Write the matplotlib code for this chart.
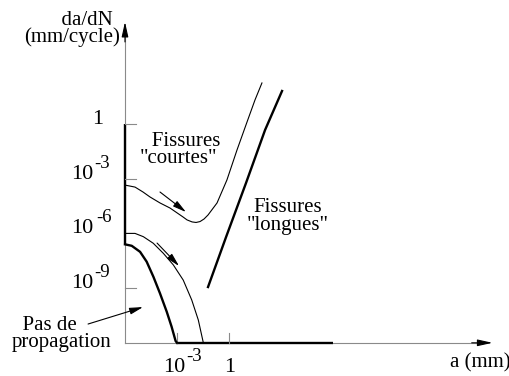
import matplotlib
matplotlib.use('Agg')
import matplotlib.pyplot as plt

plt.rcParams['font.family'] = 'Liberation Serif'

# schematic: x = log10(a in mm), y = log10(da/dN in mm/cycle)
x_origin, x_end = -6.0, 15.2
y_origin, y_end = -12.0, 5.6

# "short" cracks, upper curve (dip then joins long crack behaviour)
short_up_x = [-6.0, -5.42, -4.96, -4.56, -3.98, -3.40, -2.65, -2.42, -2.13, -1.90,
              -1.67, -1.44, -1.21, -0.69, -0.12, 0.46, 1.04, 1.50, 1.90]
short_up_y = [-3.35, -3.46, -3.73, -4.00, -4.33, -4.61, -5.10, -5.26, -5.37, -5.40,
              -5.35, -5.21, -4.99, -4.33, -3.07, -1.43, 0.11, 1.32, 2.25]

# "short" cracks that arrest
short_mid_x = [-6.0, -5.42, -4.94, -4.37, -3.79, -3.21, -2.64, -2.15, -1.77, -1.48]
short_mid_y = [-6.0, -6.0, -6.18, -6.54, -7.09, -7.73, -8.56, -9.65, -10.75, -12.0]

# threshold boundary (no propagation below)
thresh_x = [-6.0, -5.61, -5.13, -4.75, -4.36, -3.98, -3.59, -3.31, -3.08, -3.0]
thresh_y = [-6.60, -6.68, -7.01, -7.55, -8.38, -9.29, -10.30, -11.12, -11.9, -12.0]

# "long" cracks
long_x = [-1.21, -0.17, 0.98, 2.08, 3.06]
long_y = [-8.94, -6.20, -3.24, -0.33, 1.81]

# tick exponents and their labels (base, superscript)
y_ticks = [0, -3, -6, -9]
y_bases = ['1', '10', '10', '10']
y_sups = ['', '-3', '-6', '-9']
x_ticks = [-3, 0]
x_bases = ['10', '1']
x_sups = ['-3', '']

fig = plt.figure(figsize=(5.1, 3.76), dpi=100)
ax = fig.add_axes([0, 0, 1, 1])
ax.set_xlim(-13.21, 16.21)
ax.set_ylim(-13.82, 6.80)
ax.axis('off')

grey = '#8a8a8a'
head = '-|>,head_length=0.9,head_width=0.2'
# axes
ax.plot([x_origin, x_origin], [y_origin, 4.8], color=grey, lw=0.8)
ax.plot([x_origin, x_origin], [0, thresh_y[0]], color='black', lw=1.7, solid_capstyle='butt')
ax.annotate('', xy=(x_origin, y_end), xytext=(x_origin, 4.5),
            arrowprops=dict(arrowstyle=head, lw=0.8, shrinkA=0, shrinkB=0,
                            mutation_scale=10, fc='black', ec='black'))
ax.plot([x_origin, -3.0], [y_origin, y_origin], color=grey, lw=0.8)
ax.plot([-3.0, 6.0], [y_origin, y_origin], color='black', lw=1.7, solid_capstyle='butt')
ax.plot([6.0, 14.3], [y_origin, y_origin], color=grey, lw=0.8)
ax.annotate('', xy=(x_end, y_origin), xytext=(14.0, y_origin),
            arrowprops=dict(arrowstyle=head, lw=0.8, shrinkA=0, shrinkB=0,
                            mutation_scale=10, fc='black', ec='black'))

for t in y_ticks:
    if t != -6:
        ax.plot([x_origin, x_origin + 0.65], [t, t], color=grey, lw=0.8)
for t in x_ticks:
    ax.plot([t, t], [y_origin, y_origin + 0.55], color=grey, lw=0.8)

# tick labels, offsets in points
for t, b, s in zip(y_ticks, y_bases, y_sups):
    if s:
        ax.annotate(b, xy=(x_origin, t), xytext=(-23, 0), textcoords='offset points',
                    ha='right', va='baseline', fontsize=16)
        sx = -20.5 if s == '-6' else -22.3
        ax.annotate(s, xy=(x_origin, t), xytext=(sx, 7.9), textcoords='offset points',
                    ha='left', va='baseline', fontsize=13.5)
    else:
        ax.annotate(b, xy=(x_origin, t), xytext=(-15.8, 0), textcoords='offset points',
                    ha='right', va='baseline', fontsize=16)
for t, b, s in zip(x_ticks, x_bases, x_sups):
    if s:
        ax.annotate(b, xy=(t, y_origin), xytext=(5.8, -20.8), textcoords='offset points',
                    ha='right', va='baseline', fontsize=16)
        ax.annotate(s, xy=(t, y_origin), xytext=(6.5, -12.9), textcoords='offset points',
                    ha='left', va='baseline', fontsize=13.5)
    else:
        ax.annotate(b, xy=(t, y_origin), xytext=(0.7, -20.8), textcoords='offset points',
                    ha='center', va='baseline', fontsize=16)

# curves
ax.plot(short_up_x, short_up_y, color='black', lw=0.8)
ax.plot(short_mid_x, short_mid_y, color='black', lw=0.8)
ax.plot(thresh_x, thresh_y, color='black', lw=1.7)
ax.plot(long_x, long_y, color='black', lw=1.7)

arrow_kw = dict(arrowstyle='-|>,head_length=0.8,head_width=0.2', lw=0.8,
                color='black', shrinkA=0, shrinkB=0, mutation_scale=10)
ax.annotate('', xy=(-2.48, -4.83), xytext=(-3.98, -3.73), arrowprops=arrow_kw)
ax.annotate('', xy=(-2.88, -7.79), xytext=(-4.15, -6.53), arrowprops=arrow_kw)
ax.annotate('', xy=(-4.96, -10.04), xytext=(-8.13, -10.97), arrowprops=arrow_kw)

# labels (leading spaces nudge one line of a block; anchor = last baseline)
ax.text(-9.07, 4.50, '      da/dN\n(mm/cycle)', ha='center', va='baseline',
        multialignment='center', linespacing=0.80, fontsize=15)
ax.text(12.75, -13.33, 'a (mm)', ha='left', va='baseline', fontsize=15)
ax.text(-2.91, -2.14, '   Fissures\n"courtes"', ha='center', va='baseline',
        multialignment='center', linespacing=0.86, fontsize=15)
ax.text(3.40, -5.81, 'Fissures\n"longues"', ha='center', va='baseline',
        multialignment='center', linespacing=0.91, fontsize=15)
ax.text(-12.52, -12.23, '  Pas de\npropagation', ha='left', va='baseline',
        multialignment='left', linespacing=0.86, fontsize=15)

fig.savefig('out.png', dpi=100)
